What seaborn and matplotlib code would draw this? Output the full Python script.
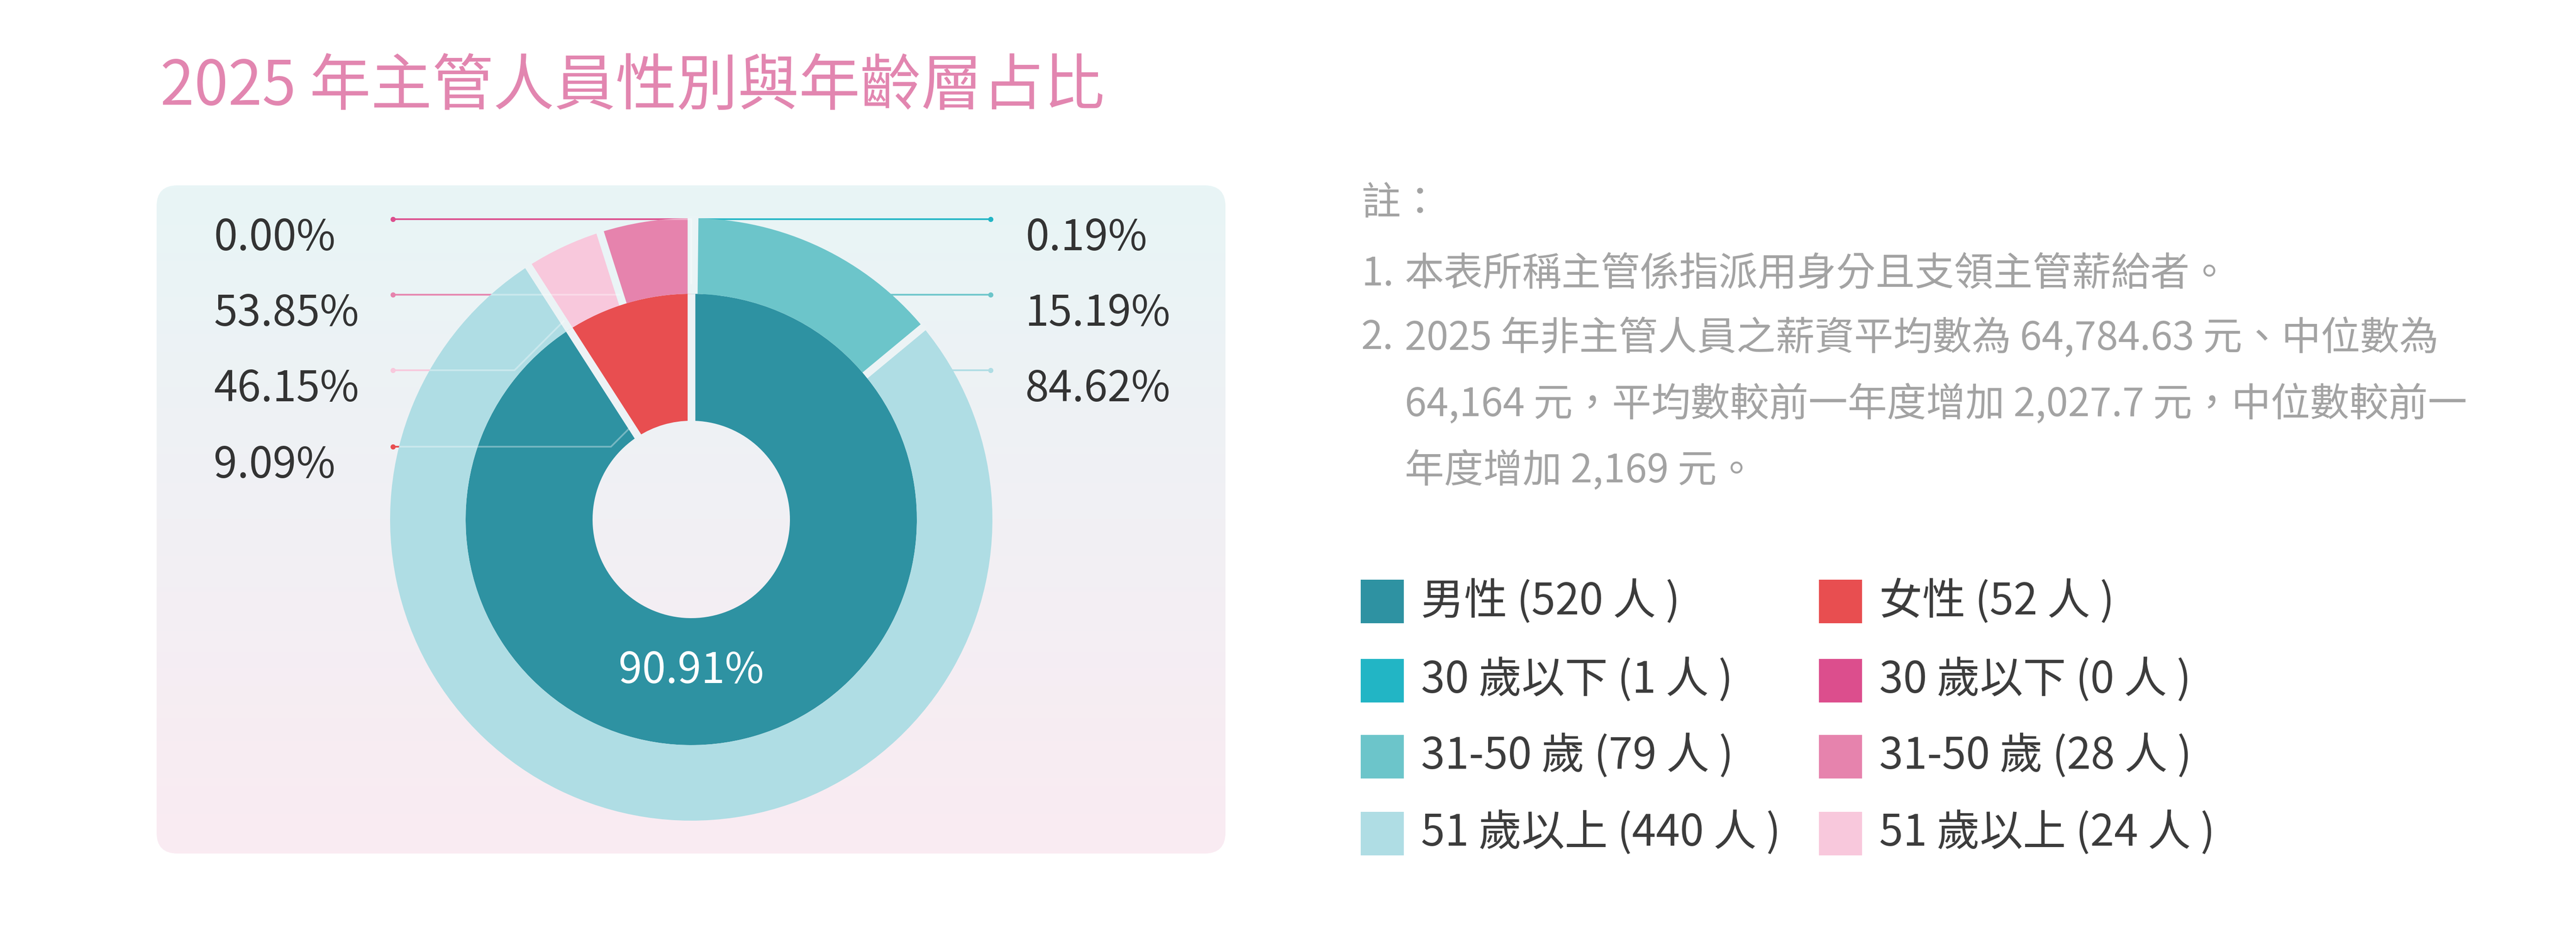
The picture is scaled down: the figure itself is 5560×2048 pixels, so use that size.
import numpy as np
import matplotlib
matplotlib.use("Agg")
import matplotlib.pyplot as plt
import seaborn as sns
from matplotlib.patches import FancyBboxPatch, Rectangle, Circle
from matplotlib.colors import LinearSegmentedColormap, to_rgb

# Data
genders = ["男性", "女性"]
gender_counts = [520, 52]
age_groups = ["30 歲以下", "31-50 歲", "51 歲以上"]
male_age_counts = [1, 79, 440]
female_age_counts = [0, 28, 24]

gender_colors = ["#2E92A2", "#E84E50"]
male_age_colors = ["#22B5C5", "#6CC5CA", "#AFDDE4"]
female_age_colors = ["#DC4E8D", "#E683AD", "#F8C8DC"]

title = "2025 年主管人員性別與年齡層占比"
note_head = "註："
note_nums = ["1.", "2."]
note_lines = [
    "本表所稱主管係指派用身分且支領主管薪給者。",
    "2025 年非主管人員之薪資平均數為 64,784.63 元、中位數為",
    "64,164 元，平均數較前一年度增加 2,027.7 元，中位數較前一",
    "年度增加 2,169 元。",
]

# Layout (image pixels, y measured from the top)
W, H = 5560, 2048
sns.set_theme(style="white")
plt.rcParams["font.family"] = ["Noto Sans CJK TC", "DejaVu Sans"]


def Y(y):
    return H - y


fig = plt.figure(figsize=(W / 100, H / 100), dpi=100, facecolor="white")
ax = fig.add_axes([0, 0, 1, 1])

# gradient panel behind the donut
panel_top, panel_bottom = "#E8F5F6", "#FAEBF2"
px0, px1, py0, py1 = 338, 2645, 400, 1842
panel = FancyBboxPatch((px0, Y(py1)), px1 - px0, py1 - py0,
                       boxstyle="round,pad=0,rounding_size=45",
                       facecolor="none", edgecolor="none", transform=ax.transData)
ax.add_patch(panel)
cmap = LinearSegmentedColormap.from_list("panel", [panel_top, panel_bottom])
im = ax.imshow(np.linspace(0, 1, 256)[:, None], cmap=cmap, aspect="auto",
               extent=(px0, px1, Y(py1), Y(py0)), origin="upper", zorder=0)
im.set_clip_path(panel)


def panel_color(y_img):
    t = np.clip((y_img - py0) / (py1 - py0), 0, 1)
    a, b = np.array(to_rgb(panel_top)), np.array(to_rgb(panel_bottom))
    return tuple(a * (1 - t) + b * t)


# donut
cx, cy_img = 1492, 1121
cy = Y(cy_img)
R_out, R_mid, R_hole = 650, 487, 213
total = sum(gender_counts)
outer_vals = male_age_counts + female_age_counts[::-1]
outer_cols = male_age_colors + female_age_colors[::-1]

ax.pie(gender_counts, colors=gender_colors, radius=R_mid, center=(cx, cy),
       startangle=90, counterclock=False,
       wedgeprops=dict(width=R_mid - R_hole, linewidth=0, zorder=3))
ax.pie(outer_vals, colors=outer_cols, radius=R_out, center=(cx, cy),
       startangle=90, counterclock=False,
       wedgeprops=dict(width=R_out - R_mid, linewidth=0, zorder=3))


def angles(vals):
    cum = np.concatenate([[0], np.cumsum(vals)])
    return 90 - 360 * cum / total


def polar(theta, r):
    t = np.deg2rad(theta)
    return cx + r * np.cos(t), cy + r * np.sin(t)


inner_b = angles(gender_counts)
outer_b = angles(outer_vals)

# gaps between wedges
for bounds, r0, r1 in [(inner_b, R_hole - 5, R_mid), (outer_b, R_mid, R_out + 5)]:
    for th in np.unique(np.round(bounds % 360, 4)):
        p0, p1 = polar(th, r0), polar(th, r1)
        col = panel_color(H - (p0[1] + p1[1]) / 2)
        ax.plot([p0[0], p1[0]], [p0[1], p1[1]], color=col, lw=12,
                solid_capstyle="butt", zorder=4)

ring_clip = Circle((cx, cy), R_out, transform=ax.transData)


def leader(start_angle, r, slot, side, color, dot_x, faint):
    # line from the wedge's start edge, elbow, then flat to the dot
    x0, y0 = polar(start_angle, r)
    dy = y0 - Y(slot)
    step = dy if dy > 0 else 0  # 45 degrees down, straight up otherwise
    ex = x0 - step if side == "left" else x0 + step
    xs, ys = [x0, ex, dot_x], [y0, Y(slot), Y(slot)]
    ax.plot(xs, ys, color=color, lw=2.6, zorder=2, solid_capstyle="butt")
    if faint:
        ov, = ax.plot(xs, ys, color="white", lw=2.6, alpha=0.35, zorder=5)
        ov.set_clip_path(ring_clip)
    ax.plot([dot_x], [Y(slot)], "o", ms=7, color=color, zorder=5)


label_kw = dict(fontsize=66, color="#333333", va="center", ha="left", zorder=6)
slots = [473, 636, 799, 964]
text_dy = 41
left_dot, left_text = 848, 461
right_dot, right_text = 2138, 2213

# left side: female ring (30-, 31-50, 51+), then female share of inner ring
f_start = [outer_b[5], outer_b[4], outer_b[3]]
for i in range(3):
    pct = female_age_counts[i] / gender_counts[1] * 100
    leader(f_start[i], R_mid + 22, slots[i], "left", female_age_colors[i],
           left_dot, True)
    ax.text(left_text, Y(slots[i] + text_dy), f"{pct:.2f}%", **label_kw)

leader(inner_b[1], R_hole + 26, slots[3], "left", gender_colors[1], left_dot, True)
ax.text(left_text, Y(slots[3] + text_dy),
        f"{gender_counts[1] / total * 100:.2f}%", **label_kw)

# right side: male ring
for i in range(3):
    pct = male_age_counts[i] / gender_counts[0] * 100
    leader(outer_b[i], R_mid + 22, slots[i], "right", male_age_colors[i],
           right_dot, False)
    ax.text(right_text, Y(slots[i] + text_dy), f"{pct:.2f}%", **label_kw)

# male share inside the ring
ax.text(cx, cy - 327, f"{gender_counts[0] / total * 100:.2f}%", fontsize=66,
        color="white", ha="center", va="center", zorder=6)

# title
ax.text(346, Y(188), title, fontsize=95, color="#E286B0", va="center", ha="left")

# notes
note_kw = dict(fontsize=61, color="#A3A3A3", va="center", ha="left")
ax.text(2938, Y(439), note_head, **note_kw)
note_y = [592, 729, 872, 1016]
for i, line in enumerate(note_lines):
    if i < len(note_nums):
        ax.text(2938, Y(note_y[i]), note_nums[i], **note_kw)
    ax.text(3032, Y(note_y[i]), line, **note_kw)

# legend
leg_rows = [1298, 1469, 1633, 1799]
leg_cols = [2937, 3926]
male_labels = [f"{genders[0]} ({gender_counts[0]} 人 )"] + \
    [f"{g} ({n} 人 )" for g, n in zip(age_groups, male_age_counts)]
female_labels = [f"{genders[1]} ({gender_counts[1]} 人 )"] + \
    [f"{g} ({n} 人 )" for g, n in zip(age_groups, female_age_counts)]
male_cols = [gender_colors[0]] + male_age_colors
female_cols = [gender_colors[1]] + female_age_colors
for col_x, labels, cols in [(leg_cols[0], male_labels, male_cols),
                            (leg_cols[1], female_labels, female_cols)]:
    for ry, lab, c in zip(leg_rows, labels, cols):
        ax.add_patch(Rectangle((col_x, Y(ry + 47)), 93, 94, facecolor=c,
                               edgecolor="none"))
        ax.text(col_x + 130, Y(ry), lab, fontsize=67, color="#3C3C3C",
                va="center", ha="left")

ax.set_xlim(0, W)
ax.set_ylim(0, H)
ax.set_aspect("equal")
ax.axis("off")

fig.savefig("out.png", dpi=100, facecolor="white")
